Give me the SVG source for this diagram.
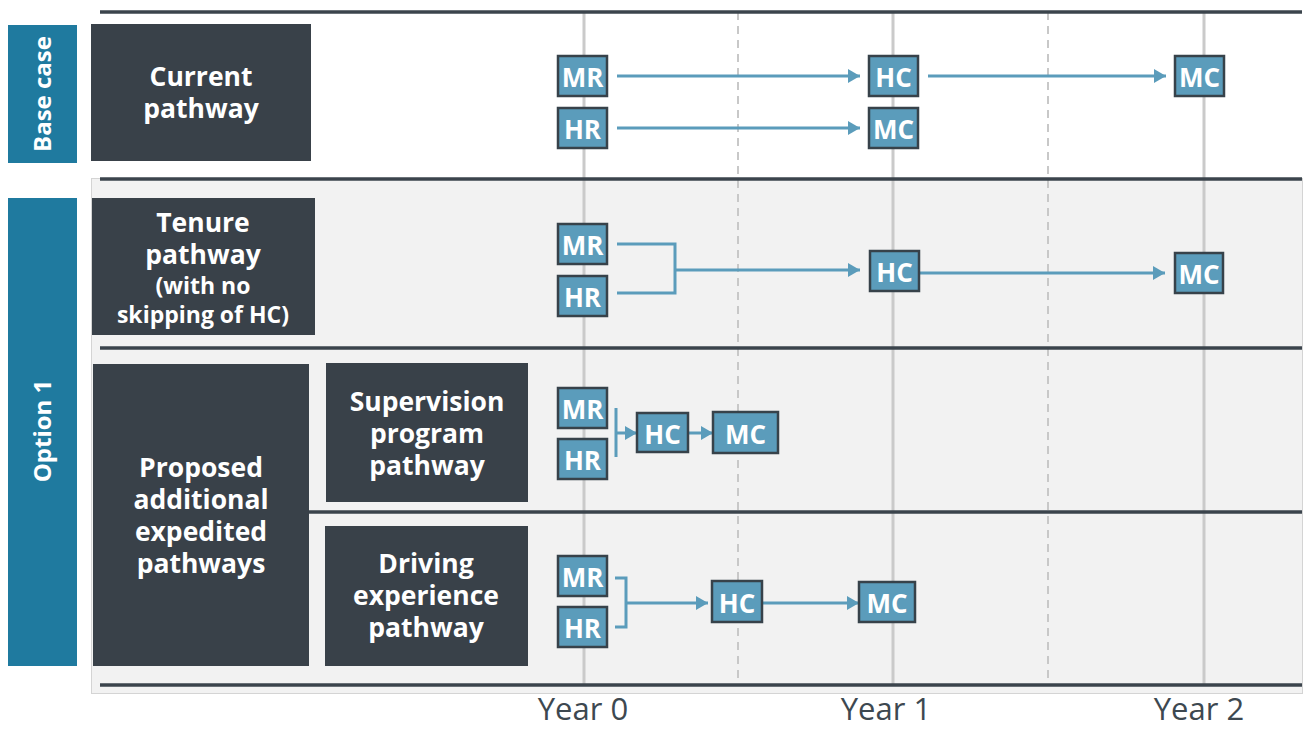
<svg xmlns="http://www.w3.org/2000/svg" width="1306" height="729" viewBox="0 0 1306 729">
<style>
.hl{stroke:#3b444c;stroke-width:3.5;fill:none}
.grid{stroke:#cacaca;stroke-width:3;fill:none}
.dash{stroke:#c8c8c8;stroke-width:2;stroke-dasharray:8 6;fill:none}
.cat{fill:#1f7a9f}
.cat-t{font-family:"Open Sans","Liberation Sans",sans-serif;font-weight:bold;font-size:24px;fill:#ffffff;text-anchor:middle}
.lab{fill:#394149}
.lab-t{font-family:"Open Sans","Liberation Sans",sans-serif;font-weight:bold;font-size:26.5px;fill:#ffffff;text-anchor:middle}
.sm{font-size:23px}
.st{fill:#5b9cbb;stroke:#37424a;stroke-width:2.5}
.st-t{font-family:"Open Sans","Liberation Sans",sans-serif;font-weight:bold;font-size:26px;fill:#ffffff;text-anchor:middle;dominant-baseline:central}
.con{stroke:#5b9cbb;stroke-width:3;fill:none}
.yr{font-family:"Open Sans","Liberation Sans",sans-serif;font-size:31px;fill:#3d4850;text-anchor:middle}
</style>
<defs>
<marker id="ah" markerUnits="userSpaceOnUse" markerWidth="12" markerHeight="14" refX="12" refY="7" orient="auto">
<path d="M0,0 L12,7 L0,14 z" fill="#5b9cbb"/>
</marker>
</defs>
<rect x="0" y="0" width="1306" height="729" fill="#ffffff"/>
<rect x="91.5" y="178.5" width="1211" height="515" fill="#f2f2f2" stroke="#d4d4d4" stroke-width="1"/>
<g id="grid">
<line class="grid" x1="584" y1="12" x2="584" y2="685"/>
<line class="grid" x1="893" y1="12" x2="893" y2="685"/>
<line class="grid" x1="1204" y1="12" x2="1204" y2="685"/>
<line class="dash" x1="738" y1="12" x2="738" y2="685"/>
<line class="dash" x1="1048" y1="12" x2="1048" y2="685"/>
<line class="hl" x1="100" y1="12" x2="1302" y2="12"/>
<line class="hl" x1="100" y1="179" x2="1302" y2="179"/>
<line class="hl" x1="100" y1="348" x2="1302" y2="348"/>
<line class="hl" x1="309" y1="512" x2="1302" y2="512"/>
<line class="hl" x1="100" y1="685" x2="1302" y2="685"/>
</g>
<g id="cat-base">
<rect class="cat" x="8" y="25" width="69" height="138"/>
<text class="cat-t" transform="translate(51,94) rotate(-90)">Base case</text>
</g>
<g id="cat-option1">
<rect class="cat" x="8" y="198" width="69" height="468"/>
<text class="cat-t" transform="translate(51,431) rotate(-90)">Option 1</text>
</g>
<g id="lab-current">
<rect class="lab" x="91" y="24" width="220" height="137"/>
<text class="lab-t" x="201" y="86">Current<tspan x="201" dy="32">pathway</tspan></text>
</g>
<g id="lab-tenure">
<rect class="lab" x="92" y="198" width="223" height="137"/>
<text class="lab-t" x="203" y="232">Tenure<tspan x="203" dy="32">pathway</tspan><tspan class="sm" x="203" dy="30">(with no</tspan><tspan class="sm" x="203" dy="29">skipping of HC)</tspan></text>
</g>
<g id="lab-proposed">
<rect class="lab" x="93" y="364" width="216" height="302"/>
<text class="lab-t" x="201" y="477">Proposed<tspan x="201" dy="32">additional</tspan><tspan x="201" dy="32">expedited</tspan><tspan x="201" dy="32">pathways</tspan></text>
</g>
<g id="lab-supervision">
<rect class="lab" x="326" y="363" width="202" height="139"/>
<text class="lab-t" x="427" y="411">Supervision<tspan x="427" dy="32">program</tspan><tspan x="427" dy="32">pathway</tspan></text>
</g>
<g id="lab-driving">
<rect class="lab" x="325" y="526" width="203" height="140"/>
<text class="lab-t" x="426" y="573">Driving<tspan x="426" dy="32">experience</tspan><tspan x="426" dy="32">pathway</tspan></text>
</g>
<g id="connectors">
<path class="con" d="M617,76 H860" marker-end="url(#ah)"/>
<path class="con" d="M928,76 H1166" marker-end="url(#ah)"/>
<path class="con" d="M617,128 H860" marker-end="url(#ah)"/>
<path class="con" d="M617,244 H675 V293 H617"/>
<path class="con" d="M675,270 H860" marker-end="url(#ah)"/>
<path class="con" d="M920,273 H1165" marker-end="url(#ah)"/>
<path class="con" d="M616,408 V457"/>
<path class="con" d="M616,433 H637" marker-end="url(#ah)"/>
<path class="con" d="M688,433 H713" marker-end="url(#ah)"/>
<path class="con" d="M615,578 H626 V627 H615"/>
<path class="con" d="M626,603 H708" marker-end="url(#ah)"/>
<path class="con" d="M762,603 H859" marker-end="url(#ah)"/>
</g>
<g id="b-mr"><rect class="st" x="558" y="56" width="49" height="40"/><text class="st-t" x="582.5" y="77">MR</text></g>
<g id="b-hr"><rect class="st" x="558" y="108" width="49" height="40"/><text class="st-t" x="582.5" y="129">HR</text></g>
<g id="b-hc"><rect class="st" x="869" y="56" width="49" height="40"/><text class="st-t" x="893.5" y="77">HC</text></g>
<g id="b-mc1"><rect class="st" x="869" y="108" width="49" height="40"/><text class="st-t" x="893.5" y="129">MC</text></g>
<g id="b-mc2"><rect class="st" x="1175" y="56" width="49" height="40"/><text class="st-t" x="1199.5" y="77">MC</text></g>
<g id="t-mr"><rect class="st" x="558" y="224" width="49" height="40"/><text class="st-t" x="582.5" y="245">MR</text></g>
<g id="t-hr"><rect class="st" x="558" y="276" width="49" height="40"/><text class="st-t" x="582.5" y="297">HR</text></g>
<g id="t-hc"><rect class="st" x="870" y="251" width="49" height="40"/><text class="st-t" x="894.5" y="272">HC</text></g>
<g id="t-mc"><rect class="st" x="1175" y="253" width="48" height="40"/><text class="st-t" x="1199" y="274">MC</text></g>
<g id="s-mr"><rect class="st" x="558" y="388" width="49" height="40"/><text class="st-t" x="582.5" y="409">MR</text></g>
<g id="s-hr"><rect class="st" x="558" y="439" width="49" height="40"/><text class="st-t" x="582.5" y="460">HR</text></g>
<g id="s-hc"><rect class="st" x="637" y="413" width="51" height="39"/><text class="st-t" x="662.5" y="433.5">HC</text></g>
<g id="s-mc"><rect class="st" x="713" y="412" width="65" height="41"/><text class="st-t" x="745.5" y="433.5">MC</text></g>
<g id="d-mr"><rect class="st" x="558" y="556" width="49" height="40"/><text class="st-t" x="582.5" y="577">MR</text></g>
<g id="d-hr"><rect class="st" x="558" y="607" width="49" height="40"/><text class="st-t" x="582.5" y="628">HR</text></g>
<g id="d-hc"><rect class="st" x="712" y="581" width="50" height="41"/><text class="st-t" x="737" y="602.5">HC</text></g>
<g id="d-mc"><rect class="st" x="859" y="582" width="56" height="40"/><text class="st-t" x="887" y="603">MC</text></g>
<g id="years">
<text class="yr" x="583" y="720">Year 0</text>
<text class="yr" x="886" y="720">Year 1</text>
<text class="yr" x="1199" y="720">Year 2</text>
</g>
</svg>
